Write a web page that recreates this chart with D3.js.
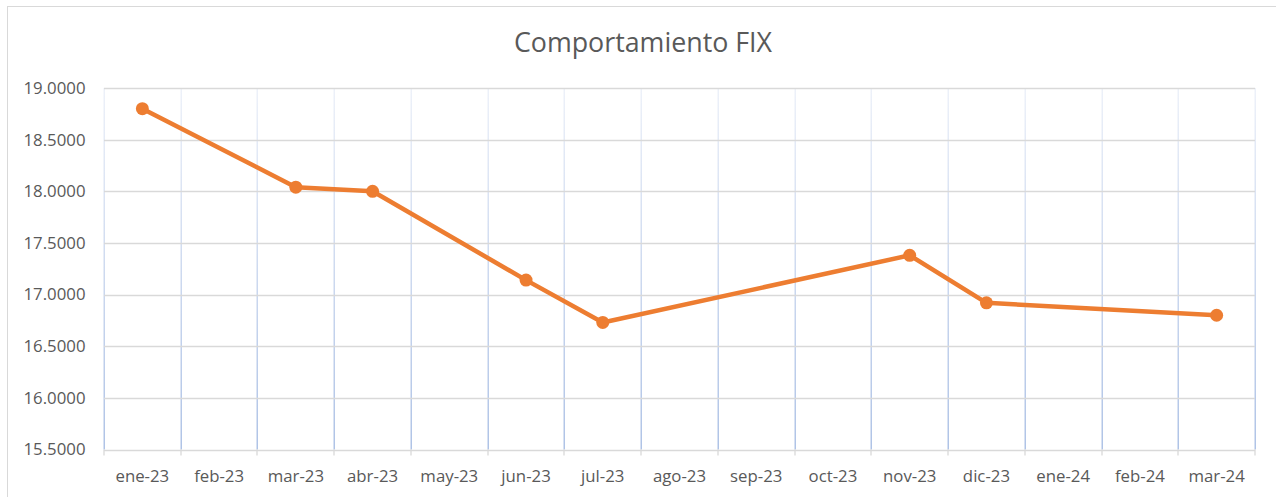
<!DOCTYPE html>
<html><head><meta charset="utf-8">
<script src="https://cdn.jsdelivr.net/npm/d3@7"></script>
<style>html,body{margin:0;padding:0;background:#fff;overflow:hidden}</style>
</head><body>
<svg id="c" width="1276" height="497"></svg>
<script>
const categories = ["ene-23","feb-23","mar-23","abr-23","may-23","jun-23","jul-23","ago-23","sep-23","oct-23","nov-23","dic-23","ene-24","feb-24","mar-24"];
const pointMonths = ["ene-23","mar-23","abr-23","jun-23","jul-23","nov-23","dic-23","mar-24"];
const pointValues = [18.80, 18.04, 18.00, 17.14, 16.73, 17.38, 16.92, 16.80];
const yTicks = [15.5, 16.0, 16.5, 17.0, 17.5, 18.0, 18.5, 19.0];
const title = "Comportamiento FIX";

const svg = d3.select("#c");
const font = "'Open Sans', sans-serif";
const m = {left:104, right:1255, top:88, bottom:449.5};

// outer frame (left & top only visible)
svg.append("rect").attr("x",7.5).attr("y",6.5).attr("width",1400).attr("height",600)
  .attr("fill","none").attr("stroke","#D9D9D9").attr("stroke-width",1);

const x = d3.scaleBand().domain(categories).range([m.left, m.right]).padding(0);
const y = d3.scaleLinear().domain([15.5, 19.0]).range([m.bottom, m.top]);

const defs = svg.append("defs");
const grad = defs.append("linearGradient").attr("id","vg").attr("gradientUnits","userSpaceOnUse")
  .attr("x1",0).attr("y1",m.top).attr("x2",0).attr("y2",m.bottom);
grad.append("stop").attr("offset","0%").attr("stop-color","#EDF1F9");
grad.append("stop").attr("offset","100%").attr("stop-color","#AFC3E6");

// vertical gridlines at category boundaries
const bounds = categories.map(c => x(c)).concat([x(categories[categories.length-1]) + x.bandwidth()]);
svg.append("g").selectAll("rect").data(bounds).join("rect")
  .attr("x", d => Math.round(d) - 0.5).attr("y", m.top).attr("width", 1.5).attr("height", m.bottom - m.top)
  .attr("fill","url(#vg)");

// horizontal gridlines
svg.append("g").selectAll("line").data(yTicks).join("line")
  .attr("x1", m.left).attr("x2", m.right)
  .attr("y1", d => Math.round(y(d)) + 0.5).attr("y2", d => Math.round(y(d)) + 0.5)
  .attr("stroke","#D9D9D9").attr("stroke-width",1.3);

// x-axis tick marks
svg.append("g").selectAll("line").data(bounds).join("line")
  .attr("x1", d => Math.round(d)).attr("x2", d => Math.round(d))
  .attr("y1", m.bottom).attr("y2", m.bottom + 6)
  .attr("stroke","#D9D9D9").attr("stroke-width",1.3);

// y labels
svg.append("g").selectAll("text").data(yTicks).join("text")
  .attr("x", 85.5).attr("y", d => y(d)).attr("dy","0.35em").attr("text-anchor","end")
  .attr("font-family", font).attr("font-size", 16.8).attr("fill","#595959")
  .text(d => d.toFixed(4));

// x labels
svg.append("g").selectAll("text").data(categories).join("text")
  .attr("x", d => x(d) + x.bandwidth()/2).attr("y", 476).attr("dy","0.35em").attr("text-anchor","middle")
  .attr("font-family", font).attr("font-size", 16.8).attr("fill","#595959")
  .text(d => d);

// title
svg.append("text").attr("x", 643).attr("y", 43).attr("dy","0.35em").attr("text-anchor","middle")
  .attr("font-family", font).attr("font-size", 26.8).attr("fill","#595959").text(title);

const pts = pointMonths.map((mo,i) => ({mo, v: pointValues[i]}));
const line = d3.line().x(d => x(d.mo) + x.bandwidth()/2).y(d => y(d.v));
svg.append("path").datum(pts).attr("d", line).attr("fill","none")
  .attr("stroke","#ED7D31").attr("stroke-width",4.5).attr("stroke-linejoin","round");
svg.append("g").selectAll("circle").data(pts).join("circle")
  .attr("cx", d => x(d.mo) + x.bandwidth()/2).attr("cy", d => y(d.v)).attr("r", 6.5)
  .attr("fill","#ED7D31");
</script>
</body></html>
